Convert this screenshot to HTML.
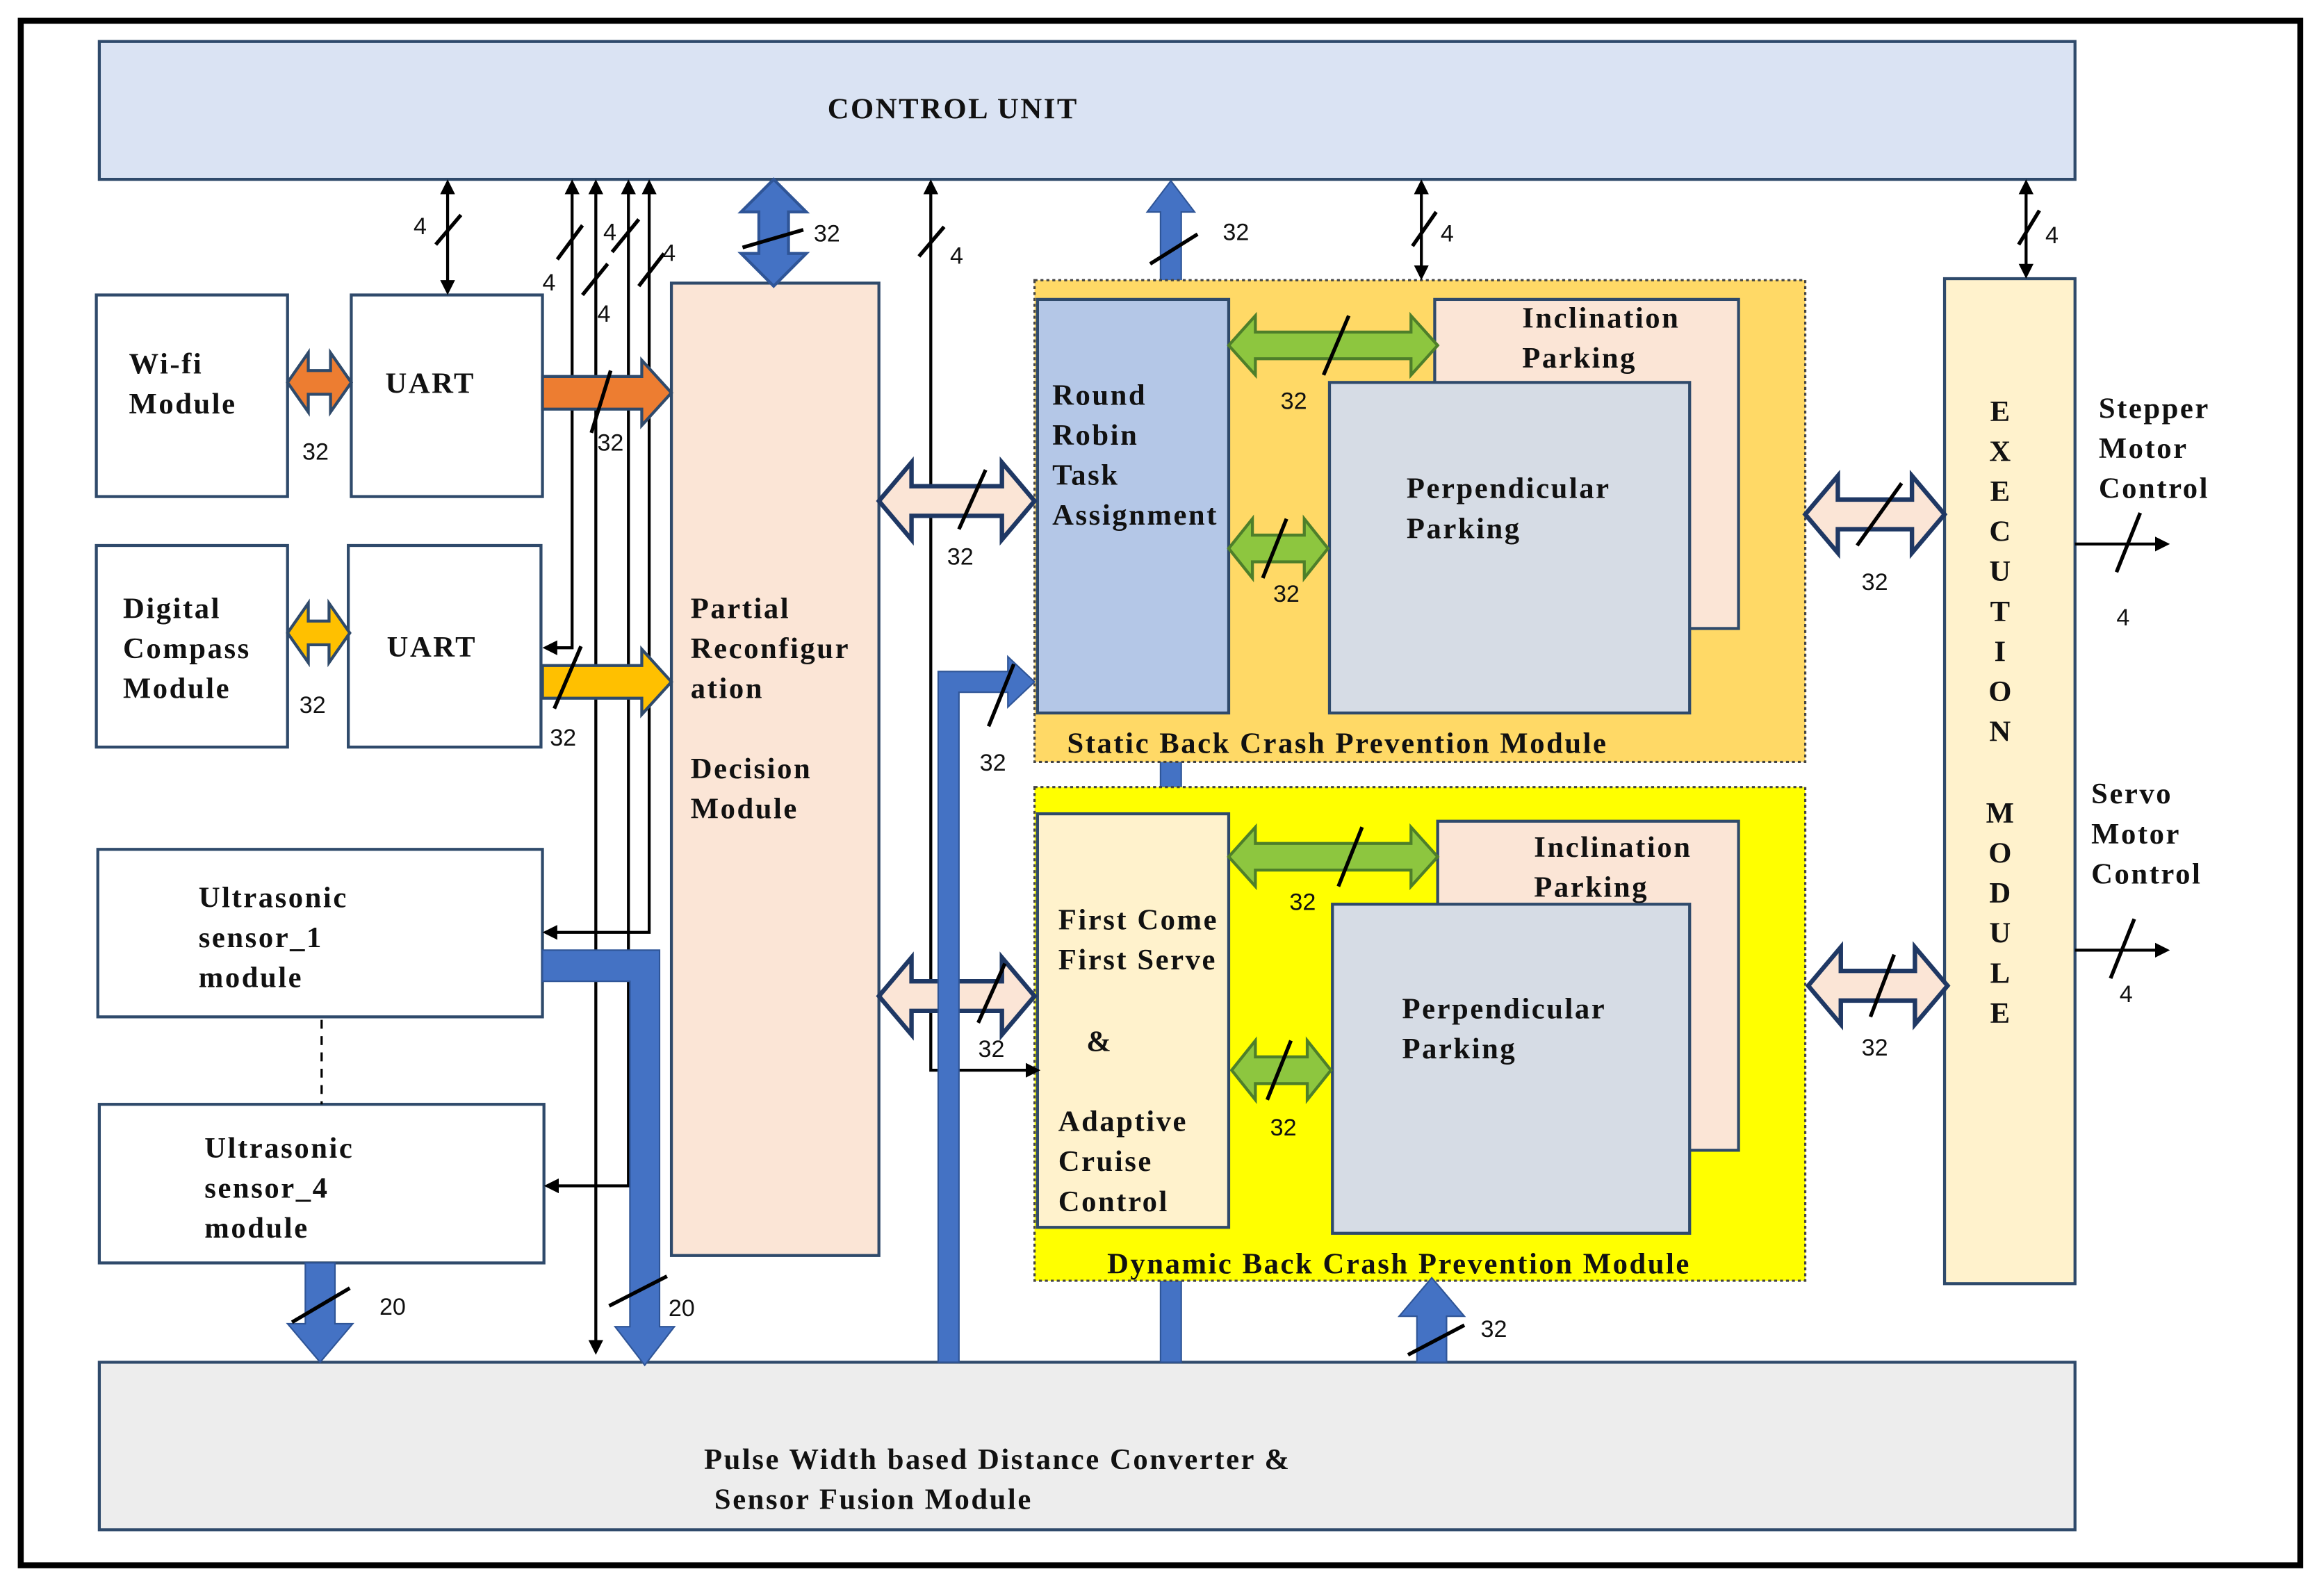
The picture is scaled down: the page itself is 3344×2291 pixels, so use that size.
<!DOCTYPE html>
<html><head><meta charset="utf-8"><style>
html,body{margin:0;padding:0;background:#fff;}
svg{display:block;}
.t{font-family:"Liberation Serif",serif;font-weight:bold;font-size:20px;letter-spacing:1.2px;fill:#111;}
.n{font-family:"Liberation Sans",sans-serif;font-size:16px;fill:#111;}
</style></head><body>
<svg width="3344" height="2291" viewBox="0 0 1568 1074" preserveAspectRatio="none" xmlns="http://www.w3.org/2000/svg">
<defs>
<marker id="ah" markerWidth="10" markerHeight="10" refX="8" refY="5" orient="auto-start-reverse" markerUnits="userSpaceOnUse"><path d="M0,0 L10,5 L0,10 z" fill="#000"/></marker>
</defs>
<rect x="0" y="0" width="1568" height="1074" fill="#fff"/>
<rect x="14" y="14" width="1538" height="1042" fill="none" stroke="#000" stroke-width="4"/>

<rect x="67" y="28" width="1333" height="93" fill="#dae3f3" stroke="#2f4a6b" stroke-width="2"/>
<text x="643" y="80" class="t" text-anchor="middle">CONTROL UNIT</text>
<rect x="67" y="919" width="1333" height="113" fill="#ededed" stroke="#2f4a6b" stroke-width="2"/>
<text x="475" y="991" class="t">Pulse Width based Distance Converter &amp;</text>
<text x="482" y="1018" class="t">Sensor Fusion Module</text>

<polygon points="790,122 806,143 797,143 797,919 783,919 783,143 774,143" fill="#4472c4" stroke="#2f5597" stroke-width="1"/>

<rect x="65" y="199" width="129" height="136" fill="#fff" stroke="#2f4a6b" stroke-width="2"/>
<text x="87" y="252" class="t">Wi-fi</text><text x="87" y="279" class="t">Module</text>
<rect x="237" y="199" width="129" height="136" fill="#fff" stroke="#2f4a6b" stroke-width="2"/>
<text x="260" y="265" class="t">UART</text>
<rect x="65" y="368" width="129" height="136" fill="#fff" stroke="#2f4a6b" stroke-width="2"/>
<text x="83" y="417" class="t">Digital</text><text x="83" y="444" class="t">Compass</text><text x="83" y="471" class="t">Module</text>
<rect x="235" y="368" width="130" height="136" fill="#fff" stroke="#2f4a6b" stroke-width="2"/>
<text x="261" y="443" class="t">UART</text>
<rect x="66" y="573" width="300" height="113" fill="#fff" stroke="#2f4a6b" stroke-width="2"/>
<text x="134" y="612" class="t">Ultrasonic</text><text x="134" y="639" class="t">sensor_1</text><text x="134" y="666" class="t">module</text>
<rect x="67" y="745" width="300" height="107" fill="#fff" stroke="#2f4a6b" stroke-width="2"/>
<text x="138" y="781" class="t">Ultrasonic</text><text x="138" y="808" class="t">sensor_4</text><text x="138" y="835" class="t">module</text>
<line x1="217" y1="688" x2="217" y2="745" stroke="#000" stroke-width="1.5" stroke-dasharray="6,5"/>

<rect x="453" y="191" width="140" height="656" fill="#fbe5d6" stroke="#2f4a6b" stroke-width="2"/>
<text x="466" y="417" class="t">Partial</text><text x="466" y="444" class="t">Reconfigur</text><text x="466" y="471" class="t">ation</text>
<text x="466" y="525" class="t">Decision</text><text x="466" y="552" class="t">Module</text>

<rect x="698" y="189" width="520" height="325" fill="#ffd966" stroke="#444" stroke-width="1.5" stroke-dasharray="2,2"/>
<rect x="700" y="202" width="129" height="279" fill="#b4c7e7" stroke="#2f4a6b" stroke-width="2"/>
<text x="710" y="273" class="t">Round</text><text x="710" y="300" class="t">Robin</text><text x="710" y="327" class="t">Task</text><text x="710" y="354" class="t" letter-spacing="0.6">Assignment</text>
<rect x="968" y="202" width="205" height="222" fill="#fbe5d6" stroke="#2f4a6b" stroke-width="2"/>
<text x="1027" y="221" class="t">Inclination</text><text x="1027" y="248" class="t">Parking</text>
<rect x="897" y="258" width="243" height="223" fill="#d6dce5" stroke="#2f4a6b" stroke-width="2"/>
<text x="949" y="336" class="t">Perpendicular</text><text x="949" y="363" class="t">Parking</text>
<text x="720" y="508" class="t">Static Back Crash Prevention Module</text>

<rect x="698" y="531" width="520" height="333" fill="#ffff00" stroke="#444" stroke-width="1.5" stroke-dasharray="2,2"/>
<rect x="700" y="549" width="129" height="279" fill="#fff2cc" stroke="#2f4a6b" stroke-width="2"/>
<text x="714" y="627" class="t">First Come</text><text x="714" y="654" class="t">First Serve</text><text x="733" y="709" class="t">&amp;</text>
<text x="714" y="763" class="t">Adaptive</text><text x="714" y="790" class="t">Cruise</text><text x="714" y="817" class="t">Control</text>
<rect x="970" y="554" width="203" height="222" fill="#fbe5d6" stroke="#2f4a6b" stroke-width="2"/>
<text x="1035" y="578" class="t">Inclination</text><text x="1035" y="605" class="t">Parking</text>
<rect x="899" y="610" width="241" height="222" fill="#d6dce5" stroke="#2f4a6b" stroke-width="2"/>
<text x="946" y="687" class="t">Perpendicular</text><text x="946" y="714" class="t">Parking</text>
<text x="747" y="859" class="t">Dynamic Back Crash Prevention Module</text>

<rect x="1312" y="188" width="88" height="678" fill="#fff2cc" stroke="#2f4a6b" stroke-width="2"/>
<g class="t" text-anchor="middle">
<text x="1350" y="284">E</text><text x="1350" y="311">X</text><text x="1350" y="338">E</text><text x="1350" y="365">C</text><text x="1350" y="392">U</text><text x="1350" y="419">T</text><text x="1350" y="446">I</text><text x="1350" y="473">O</text><text x="1350" y="500">N</text>
<text x="1350" y="555">M</text><text x="1350" y="582">O</text><text x="1350" y="609">D</text><text x="1350" y="636">U</text><text x="1350" y="663">L</text><text x="1350" y="690">E</text>
</g>
<text x="1416" y="282" class="t">Stepper</text><text x="1416" y="309" class="t">Motor</text><text x="1416" y="336" class="t">Control</text>
<text x="1411" y="542" class="t">Servo</text><text x="1411" y="569" class="t">Motor</text><text x="1411" y="596" class="t">Control</text>

<g stroke="#000" stroke-width="2" fill="none">
<line x1="1400" y1="367" x2="1462" y2="367" marker-end="url(#ah)"/>
<line x1="1400" y1="641" x2="1462" y2="641" marker-end="url(#ah)"/>
<line x1="302" y1="123" x2="302" y2="197" marker-start="url(#ah)" marker-end="url(#ah)"/>
<line x1="959" y1="123" x2="959" y2="187" marker-start="url(#ah)" marker-end="url(#ah)"/>
<line x1="1367" y1="123" x2="1367" y2="186" marker-start="url(#ah)" marker-end="url(#ah)"/>
<polyline points="386,123 386,437 368,437" marker-start="url(#ah)" marker-end="url(#ah)"/>
<line x1="402" y1="123" x2="402" y2="912" marker-start="url(#ah)" marker-end="url(#ah)"/>
<polyline points="424,123 424,800 369,800" marker-start="url(#ah)" marker-end="url(#ah)"/>
<polyline points="438,123 438,629 368,629" marker-start="url(#ah)" marker-end="url(#ah)"/>
<polyline points="628,123 628,722 700,722" marker-start="url(#ah)" marker-end="url(#ah)"/>
</g>

<g stroke-width="2">
<polygon points="194,258 208,238 208,250 223,250 223,238 237,258 223,278 223,266 208,266 208,278" fill="#ed7d31" stroke="#2f4a6b"/>
<polygon points="194,427 208,407 208,419 222,419 222,407 236,427 222,447 222,435 208,435 208,447" fill="#ffc000" stroke="#2f4a6b"/>
<polygon points="366,254 433,254 433,243 453,265 433,287 433,276 366,276" fill="#ed7d31" stroke="#2f4a6b"/>
<polygon points="366,449 433,449 433,438 453,460 433,482 433,471 366,471" fill="#ffc000" stroke="#2f4a6b"/>
<polygon points="522,121 544,143 532,143 532,171 544,171 522,193 500,171 512,171 512,143 500,143" fill="#4472c4" stroke="#2f5597"/>
<polygon points="593,338 615,312 615,328 676,328 676,312 698,338 676,364 676,348 615,348 615,364" fill="#fbe5d6" stroke="#1f3864" stroke-width="3"/>
<polygon points="593,672 615,646 615,662 676,662 676,646 698,672 676,698 676,682 615,682 615,698" fill="#fbe5d6" stroke="#1f3864" stroke-width="3"/>
<polygon points="1218,347 1240,321 1240,337 1290,337 1290,321 1312,347 1290,373 1290,357 1240,357 1240,373" fill="#fbe5d6" stroke="#1f3864" stroke-width="3"/>
<polygon points="1220,665 1242,639 1242,655 1292,655 1292,639 1314,665 1292,691 1292,675 1242,675 1242,691" fill="#fbe5d6" stroke="#1f3864" stroke-width="3"/>
<polygon points="829,233 847,213 847,224 952,224 952,213 970,233 952,253 952,242 847,242 847,253" fill="#8dc63f" stroke="#4e7f2a"/>
<polygon points="829,370 845,350 845,361 880,361 880,350 896,370 880,390 880,379 845,379 845,390" fill="#8dc63f" stroke="#4e7f2a"/>
<polygon points="829,578 847,558 847,569 952,569 952,558 970,578 952,598 952,587 847,587 847,598" fill="#8dc63f" stroke="#4e7f2a"/>
<polygon points="831,722 847,702 847,713 882,713 882,702 898,722 882,742 882,731 847,731 847,742" fill="#8dc63f" stroke="#4e7f2a"/>
<polygon points="633,919 633,453 680,453 680,443 698,460 680,477 680,467 647,467 647,919" fill="#4472c4" stroke="#2f5597" stroke-width="1"/>
<polygon points="366,641 445,641 445,895 455,895 435,921 415,895 425,895 425,662 366,662" fill="#4472c4" stroke="#2f5597" stroke-width="1"/>
<polygon points="206,852 226,852 226,893 238,893 216,919 194,893 206,893" fill="#4472c4" stroke="#2f5597" stroke-width="1"/>
<polygon points="956,919 956,888 944,888 966,862 988,888 976,888 976,919" fill="#4472c4" stroke="#2f5597" stroke-width="1"/>
</g>

<g stroke="#000" stroke-width="2.5">
<line x1="294" y1="165" x2="311" y2="145"/>
<line x1="376" y1="175" x2="393" y2="152"/>
<line x1="413" y1="170" x2="431" y2="148"/>
<line x1="393" y1="199" x2="410" y2="178"/>
<line x1="431" y1="193" x2="448" y2="171"/>
<line x1="501" y1="167" x2="542" y2="155"/>
<line x1="620" y1="173" x2="637" y2="153"/>
<line x1="399" y1="292" x2="412" y2="250"/>
<line x1="374" y1="478" x2="392" y2="436"/>
<line x1="647" y1="357" x2="665" y2="317"/>
<line x1="660" y1="690" x2="678" y2="650"/>
<line x1="667" y1="490" x2="684" y2="448"/>
<line x1="776" y1="178" x2="808" y2="158"/>
<line x1="953" y1="166" x2="969" y2="143"/>
<line x1="1362" y1="165" x2="1376" y2="142"/>
<line x1="893" y1="253" x2="910" y2="213"/>
<line x1="852" y1="390" x2="868" y2="350"/>
<line x1="903" y1="598" x2="919" y2="558"/>
<line x1="855" y1="742" x2="871" y2="702"/>
<line x1="1253" y1="368" x2="1283" y2="326"/>
<line x1="1262" y1="686" x2="1278" y2="644"/>
<line x1="1428" y1="386" x2="1444" y2="346"/>
<line x1="1424" y1="660" x2="1440" y2="620"/>
<line x1="197" y1="892" x2="236" y2="869"/>
<line x1="411" y1="881" x2="450" y2="861"/>
<line x1="950" y1="914" x2="988" y2="894"/>
</g>

<g class="n">
<text x="279" y="158">4</text><text x="366" y="196">4</text><text x="407" y="162">4</text><text x="403" y="217">4</text><text x="447" y="176">4</text>
<text x="549" y="163">32</text><text x="641" y="178">4</text>
<text x="204" y="310">32</text><text x="202" y="481">32</text>
<text x="403" y="304">32</text><text x="371" y="503">32</text>
<text x="639" y="381">32</text><text x="660" y="713">32</text><text x="661" y="520">32</text>
<text x="825" y="162">32</text><text x="972" y="163">4</text><text x="1380" y="164">4</text>
<text x="864" y="276">32</text><text x="859" y="406">32</text><text x="870" y="614">32</text><text x="857" y="766">32</text>
<text x="1256" y="398">32</text><text x="1256" y="712">32</text>
<text x="1428" y="422">4</text><text x="1430" y="676">4</text>
<text x="256" y="887">20</text><text x="451" y="888">20</text><text x="999" y="902">32</text>
</g>
</svg>
</body></html>
